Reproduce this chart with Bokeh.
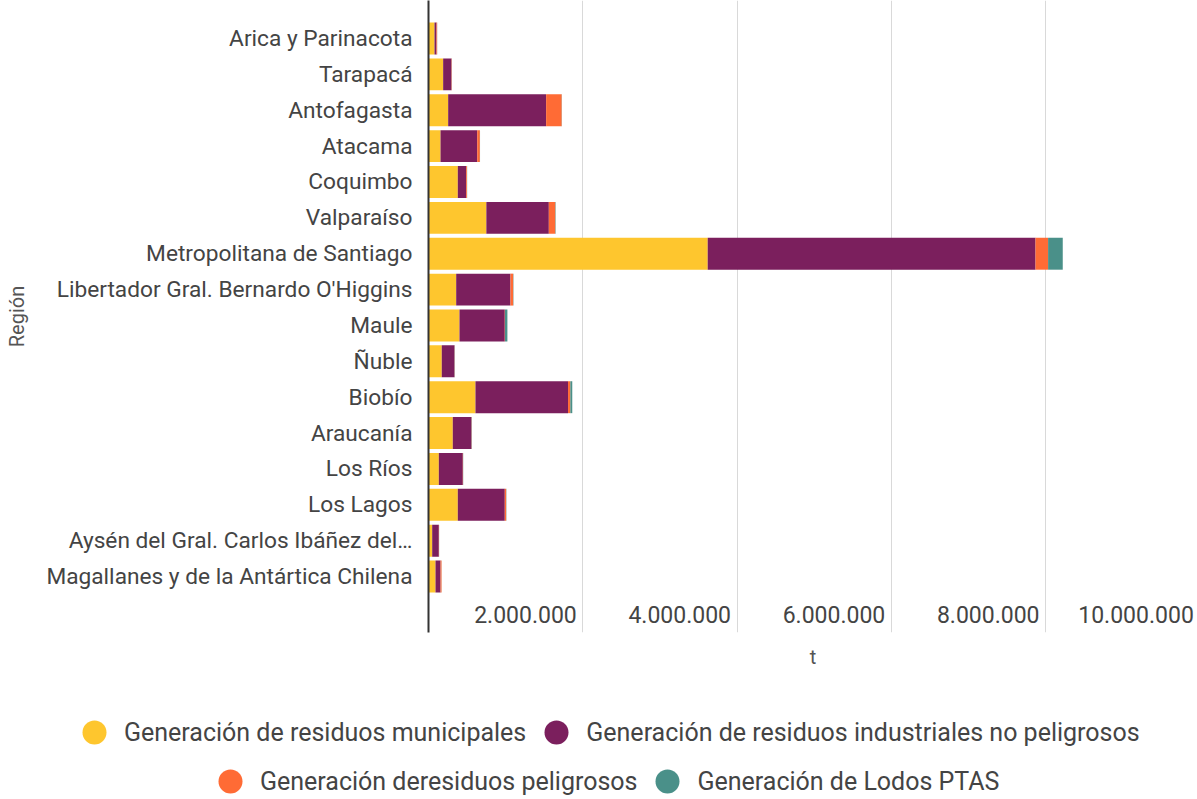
from bokeh.plotting import figure
from bokeh.layouts import column
from bokeh.models import Range1d, FixedTicker, LabelSet, ColumnDataSource, Legend, LegendItem
from bokeh.core.properties import value
from bokeh.embed import file_html
from bokeh.resources import INLINE

regions = [
    "Arica y Parinacota", "Tarapacá", "Antofagasta", "Atacama", "Coquimbo",
    "Valparaíso", "Metropolitana de Santiago", "Libertador Gral. Bernardo O'Higgins",
    "Maule", "Ñuble", "Biobío", "Araucanía", "Los Ríos", "Los Lagos",
    "Aysén del Gral. Carlos Ibáñez del…", "Magallanes y de la Antártica Chilena",
]
municipales = [78000, 190000, 255000, 156000, 380000, 750000, 3620000, 359000,
               402000, 172000, 609000, 315000, 134000, 380000, 48000, 91000]
industriales = [26000, 108000, 1270000, 476000, 109000, 810000, 4250000, 704000,
                587000, 165000, 1200000, 242000, 311000, 609000, 86000, 65000]
peligrosos = [8000, 4000, 202000, 34000, 10000, 84000, 163000, 35000,
              3000, 2000, 30000, 3000, 3000, 18000, 3000, 13000]
lodos = [1000, 1000, 2000, 2000, 2000, 5000, 190000, 4000,
         31000, 2000, 25000, 3000, 2000, 3000, 1000, 1000]

series_names = [
    "Generación de residuos municipales",
    "Generación de residuos industriales no peligrosos",
    "Generación deresiduos peligrosos",
    "Generación de Lodos PTAS",
]
colors = ["#FEC62E", "#7B1F5D", "#FF6B35", "#4A9089"]
x_ticks = [2000000, 4000000, 6000000, 8000000, 10000000]
x_tick_labels = ["2.000.000", "4.000.000", "6.000.000", "8.000.000", "10.000.000"]

FONT = "Roboto"
TEXT = "#444444"

ypos = list(range(len(regions)))
src = ColumnDataSource(dict(y=ypos, mun=municipales, ind=industriales,
                            pel=peligrosos, lod=lodos))

p = figure(width=1197, height=672, output_backend="svg", toolbar_location=None,
           x_range=Range1d(0, 9970000), y_range=Range1d(16.56, -1.06),
           min_border_left=428, min_border_right=0, min_border_top=0,
           min_border_bottom=40)
p.frame_align = False
p.outline_line_color = None
p.background_fill_color = "white"

p.hbar_stack(["mun", "ind", "pel", "lod"], y="y", height=0.89, source=src,
             fill_color=colors, line_color=None)

# y axis
p.yaxis.ticker = FixedTicker(ticks=ypos)
p.yaxis.major_label_overrides = {i: r for i, r in enumerate(regions)}
p.yaxis.major_tick_out = 0
p.yaxis.major_tick_in = 0
p.yaxis.minor_tick_out = 0
p.yaxis.minor_tick_in = 0
p.yaxis.axis_line_color = "#333333"
p.yaxis.axis_line_width = 2
p.yaxis.major_label_standoff = 16
p.yaxis.major_label_text_font = FONT
p.yaxis.major_label_text_font_size = "22.7px"
p.yaxis.major_label_text_color = TEXT
p.yaxis.axis_label = "Región"
p.yaxis.axis_label_text_font = FONT
p.yaxis.axis_label_text_font_size = "20px"
p.yaxis.axis_label_text_font_style = "normal"
p.yaxis.axis_label_text_color = "#555555"
p.yaxis.axis_label_standoff = 14
p.ygrid.visible = False

# x axis
p.xaxis.ticker = FixedTicker(ticks=[])
p.xaxis.axis_line_color = None
p.xaxis.major_tick_out = 0
p.xaxis.minor_tick_out = 0
p.xaxis.axis_label = "t"
p.xaxis.axis_label_text_font = FONT
p.xaxis.axis_label_text_font_size = "20px"
p.xaxis.axis_label_text_font_style = "normal"
p.xaxis.axis_label_text_color = "#555555"
p.xaxis.axis_label_standoff = 12
p.xgrid.ticker = FixedTicker(ticks=x_ticks)
p.xgrid.grid_line_color = "#d9d9d9"

tick_y = 16.06
tick_src = ColumnDataSource(dict(x=x_ticks, y=[tick_y] * len(x_ticks), t=x_tick_labels))
p.add_layout(LabelSet(x="x", y="y", text="t", source=tick_src, x_offset=-6,
                      text_align="right", text_baseline="middle",
                      text_font=value(FONT), text_font_size=value("23px"),
                      text_color=value(TEXT)))

# legend in a second, axis-less figure
lf = figure(width=1197, height=127, output_backend="svg", toolbar_location=None,
            x_range=Range1d(0, 1), y_range=Range1d(0, 1),
            x_axis_location=None, y_axis_location=None,
            min_border_left=0, min_border_right=0, min_border_top=0,
            min_border_bottom=0)
lf.frame_align = False
lf.outline_line_color = None
lf.xgrid.visible = False
lf.ygrid.visible = False

# invisible proxies (legend keys only)
proxies = []
for c in colors:
    proxies.append(lf.scatter(x=[-1], y=[-1], marker="circle", size=0,
                              fill_color=c, line_color=None))

def make_legend(idx, loc):
    return Legend(items=[LegendItem(label=series_names[i], renderers=[proxies[i]]) for i in idx],
                  orientation="horizontal", location=loc,
                  glyph_width=60, glyph_height=60, label_standoff=-2, spacing=0,
                  padding=0, margin=0, border_line_color=None,
                  background_fill_alpha=0,
                  label_text_font=FONT, label_text_font_size="25px",
                  label_text_color=TEXT)

lf.add_layout(make_legend([0, 1], (64, 37)), "center")
lf.add_layout(make_legend([2, 3], (200, -12)), "center")

open("out.html", "w").write(file_html(column(p, lf, spacing=0), INLINE))
